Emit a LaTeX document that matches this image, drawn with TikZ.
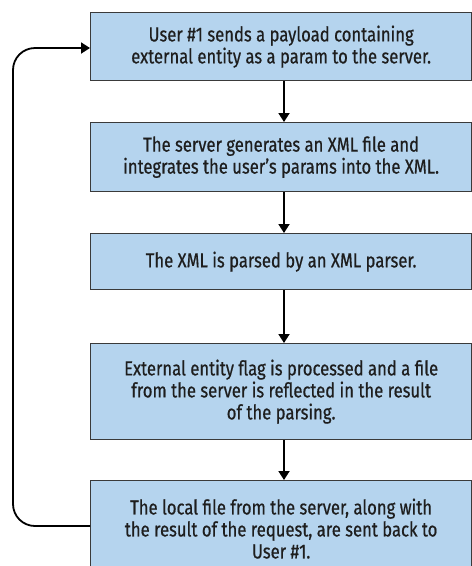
\documentclass[tikz,border=0pt]{standalone}
\usepackage{fontspec}
\setmainfont[FakeStretch=0.82,FakeBold=0.6]{Fira Sans}
\usetikzlibrary{arrows.meta}
\definecolor{boxfill}{HTML}{B5D4EE}
\definecolor{boxline}{HTML}{3A3A3A}
\definecolor{txt}{HTML}{1E1E1E}
\begin{document}
\begin{tikzpicture}[x=1pt,y=-1pt,
  flowbox/.style={draw=boxline, line width=1.3pt, fill=boxfill, text=txt,
    minimum width=381pt, inner sep=0pt, align=center, anchor=north west,
    font=\fontsize{20.3}{22}\selectfont},
  flowarrow/.style={line width=1.8pt, -{Triangle[width=11pt,length=9pt]}}]
\useasboundingbox (0,0) rectangle (472,566);
\clip (0,0) rectangle (472,566);
\node[flowbox, minimum height=68pt] (b1) at (90,12) {User \#1 sends a payload containing\\external entity as a param to the server.};
\node[flowbox, minimum height=69pt] (b2) at (90,122) {The server generates an XML file and\\integrates the user's params into the XML.};
\node[flowbox, minimum height=56pt] (b3) at (90,233) {The XML is parsed by an XML parser.};
\node[flowbox, minimum height=96pt] (b4) at (90,343) {External entity flag is processed and a file\\from the server is reflected in the result\\of the parsing.};
\node[flowbox, minimum height=96pt] (b5) at (90,480) {The local file from the server, along with\\the result of the request, are sent back to\\User \#1.};
\coordinate (ax) at (284,0);
\coordinate (lx) at (13,0);
\coordinate (in1) at (90,48);
\coordinate (out5) at (90,526);
\draw[flowarrow] (b1.south -| ax) -- (b2.north -| ax);
\draw[flowarrow] (b2.south -| ax) -- (b3.north -| ax);
\draw[flowarrow] (b3.south -| ax) -- (b4.north -| ax);
\draw[flowarrow] (b4.south -| ax) -- (b5.north -| ax);
\draw[flowarrow, rounded corners=22pt] (out5) -- (out5 -| lx) -- (in1 -| lx) -- (in1);
\end{tikzpicture}
\end{document}
